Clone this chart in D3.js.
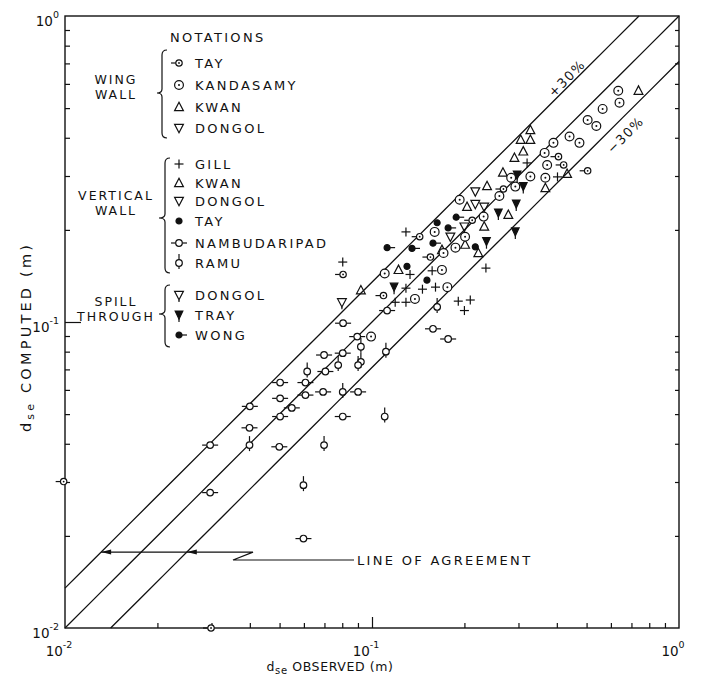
<!DOCTYPE html>
<html><head><meta charset="utf-8">
<script src="https://cdn.jsdelivr.net/npm/d3@7"></script>
<style>
body{margin:0;background:#fff}
svg text{font-family:"DejaVu Sans",sans-serif;fill:#111}
</style></head>
<body><svg id="chart" width="703" height="682"></svg>
<script>
// Scour depth d_se: observed (x) vs computed (y), metres. Pairs are [observed, computed].

// Wing wall abutments
const tayWing = [[0.405,0.347],[0.421,0.326],[0.504,0.312],[0.268,0.272],[0.212,0.215],[0.143,0.190],
  [0.155,0.163],[0.0805,0.143],[0.109,0.122],[0.0099,0.0301],[0.0299,0.0100]];
const kandasamy = [[0.634,0.570],[0.640,0.521],[0.564,0.497],[0.504,0.457],[0.538,0.437],[0.440,0.404],
  [0.474,0.385],[0.390,0.385],[0.365,0.357],[0.372,0.326],[0.367,0.296],[0.284,0.296],[0.328,0.299],
  [0.293,0.277],[0.260,0.258],[0.193,0.251],[0.231,0.221],[0.160,0.197],[0.201,0.190],[0.187,0.175],
  [0.171,0.168],[0.169,0.148],[0.176,0.130],[0.138,0.119],[0.0993,0.0896],[0.110,0.144]];
const kwanWing = [[0.738,0.570],[0.328,0.424],[0.305,0.394],[0.328,0.394],[0.311,0.361],[0.291,0.344],
  [0.432,0.305],[0.367,0.274]];
const dongolWing = [[0.217,0.267],[0.217,0.243],[0.232,0.238]];

// Vertical wall abutments
const gill = [[0.402,0.298],[0.320,0.331],[0.129,0.197],[0.0803,0.157],[0.133,0.143],[0.157,0.147],
  [0.161,0.130],[0.146,0.128],[0.129,0.129],[0.129,0.116],[0.119,0.116],[0.191,0.117],[0.209,0.118],
  [0.200,0.109],[0.235,0.150]];
const kwanVert = [[0.267,0.308],[0.237,0.278],[0.204,0.238],[0.278,0.224],[0.232,0.205],[0.201,0.179],
  [0.222,0.168],[0.169,0.172],[0.122,0.148],[0.092,0.127]];
const dongolVert = [[0.200,0.205],[0.180,0.190]];
const tayVert = [[0.163,0.211],[0.217,0.176],[0.130,0.152],[0.151,0.137]];
const nambudaripad = [[0.112,0.109],[0.0805,0.0991],[0.0895,0.0896],[0.0698,0.078],[0.0803,0.0791],
  [0.0705,0.0689],[0.0502,0.0634],[0.0607,0.0634],[0.0693,0.0591],[0.0901,0.0591],[0.0607,0.0577],
  [0.0502,0.0563],[0.0548,0.0524],[0.0502,0.0491],[0.0803,0.0491],[0.0400,0.0530],[0.0399,0.0451],
  [0.0499,0.0391],[0.0297,0.0396],[0.0297,0.0277],[0.0598,0.0196],[0.158,0.095],[0.177,0.088]];
const ramu = [[0.092,0.083],[0.092,0.0741],[0.111,0.080],[0.0615,0.0689],[0.0776,0.0723],[0.0901,0.0723],
  [0.0803,0.0591],[0.110,0.0491],[0.0399,0.0396],[0.0698,0.0396],[0.0598,0.0293],[0.163,0.112]];

// Spill-through abutments
const dongolSpill = [[0.0798,0.116]];
const tray = [[0.297,0.302],[0.311,0.277],[0.295,0.243],[0.258,0.227],[0.293,0.197],[0.236,0.183],[0.118,0.130]];
const wong = [[0.188,0.220],[0.177,0.203],[0.158,0.181],[0.112,0.175],[0.135,0.174]];

// Band around the line of agreement
const bandFactors = [1.35, 1, 0.71];
const bandLabels = [{text:"+30%", at:0.447, f:1.35, off:-7}, {text:"\u221230%", at:0.621, f:0.71, off:14}];

const svg = d3.select("#chart");
const x = d3.scaleLog().domain([0.01, 1]).range([65, 679]);
const y = d3.scaleLog().domain([0.01, 1]).range([628, 16]);
const ink = "#111";

// frame
svg.append("rect").attr("x", x(0.01)).attr("y", y(1))
  .attr("width", x(1) - x(0.01)).attr("height", y(0.01) - y(1))
  .attr("fill", "none").attr("stroke", ink).attr("stroke-width", 1.4);

const minor = x.ticks().filter(v => ![0.01, 0.1, 1].includes(+v.toPrecision(3)));
function styleAxis(g) {
  g.select(".domain").remove();
  g.selectAll("line").attr("stroke", ink).attr("stroke-width", 1.2);
}
svg.append("g").attr("transform", `translate(0,${y(0.01)})`)
  .call(d3.axisBottom(x).tickValues(minor).tickSize(-5).tickFormat("")).call(styleAxis);
svg.append("g").attr("transform", `translate(0,${y(0.01)})`)
  .call(d3.axisBottom(x).tickValues([0.1]).tickSize(-11).tickFormat("")).call(styleAxis);
svg.append("g").attr("transform", `translate(${x(0.01)},0)`)
  .call(d3.axisLeft(y).tickValues(minor).tickSize(-5).tickFormat("")).call(styleAxis);
svg.append("g").attr("transform", `translate(${x(0.01)},0)`)
  .call(d3.axisLeft(y).tickValues([0.1]).tickSize(-16).tickFormat("")).call(styleAxis);
svg.append("g").attr("transform", `translate(${x(1)},0)`)
  .call(d3.axisRight(y).tickValues(minor).tickSize(-4).tickFormat("")).call(styleAxis);

// decade labels 10^n
const decades = [0.01, 0.1, 1];
function power(g, v) {
  const e = Math.round(Math.log10(v));
  g.append("tspan").text("10");
  g.append("tspan").attr("dy", -8).attr("font-size", 9.5).text(e === 0 ? "0" : "-" + Math.abs(e));
}
decades.forEach(v => {
  const t = svg.append("text").attr("x", x(v) - 6).attr("y", y(0.01) + 28)
    .attr("font-size", 13.5).attr("text-anchor", "middle");
  power(t, v);
  const u = svg.append("text").attr("x", x(0.01) - 6).attr("y", y(v) + 10)
    .attr("font-size", 13.5).attr("text-anchor", "end");
  power(u, v);
});

// axis titles
const xt = svg.append("text").attr("x", 330).attr("y", 671).attr("font-size", 12.5)
  .attr("text-anchor", "middle").attr("letter-spacing", 0.6);
xt.append("tspan").text("d");
xt.append("tspan").attr("font-size", 10).attr("dy", 3).text("se");
xt.append("tspan").attr("dy", -3).text(" OBSERVED (m)");
const yt = svg.append("text").attr("transform", "translate(31,337) rotate(-90)")
  .attr("font-size", 14.5).attr("text-anchor", "middle").attr("letter-spacing", 3.2);
yt.append("tspan").text("d");
yt.append("tspan").attr("font-size", 11).attr("dy", 3).text("se");
yt.append("tspan").attr("dy", -3).text(" COMPUTED (m)");

// line of agreement and the ±30% lines
const line = d3.line().x(d => x(d[0])).y(d => y(d[1]));
bandFactors.forEach(f => {
  const lo = Math.max(0.01, 0.01 / f), hi = Math.min(1, 1 / f);
  const pts = d3.range(0, 21).map(i => lo * Math.pow(hi / lo, i / 20)).map(v => [v, v * f]);
  svg.append("path").attr("d", line(pts)).attr("fill", "none").attr("stroke", ink).attr("stroke-width", 1.3);
});
bandLabels.forEach(b => {
  const px = x(b.at), py = y(b.at * b.f);
  const k = b.off / Math.SQRT2;
  svg.append("text").attr("transform", `translate(${px + k},${py + k}) rotate(-45)`)
    .attr("font-size", 13).attr("text-anchor", "middle").attr("dy", "0.36em")
    .attr("letter-spacing", 1.5).text(b.text);
});

// "LINE OF AGREEMENT" leader
const leadY = 0.0177;
const ly = y(leadY), xUp = x(leadY / 1.35), xLo = x(leadY / 0.71);
svg.append("path").attr("d", `M${xUp},${ly} L253,${ly} L233,560 L354,560`)
  .attr("fill", "none").attr("stroke", ink).attr("stroke-width", 1.2);
[xUp, xLo].forEach(t => {
  svg.append("path").attr("d", `M${t},${ly} l10,-2.5 l0,5 z`).attr("fill", ink);
});
svg.append("text").attr("x", 357).attr("y", 565).attr("font-size", 13)
  .attr("letter-spacing", 2.3).text("LINE OF AGREEMENT");

// marker glyphs
function drawSymbol(g, type, cx, cy) {
  const s = g.append("g").attr("transform", `translate(${cx},${cy})`)
    .attr("stroke", ink).attr("stroke-width", 1.2).attr("fill", "none");
  const circ = (r, fill) => s.append("circle").attr("r", r).attr("fill", fill || "#fff");
  const seg = (x1, y1, x2, y2) => s.append("line").attr("x1", x1).attr("y1", y1).attr("x2", x2).attr("y2", y2);
  switch (type) {
    case "tayWing":
      seg(-8, 0, -3.2, 0); circ(3.2); s.append("circle").attr("r", 0.9).attr("fill", ink).attr("stroke", "none"); break;
    case "kandasamy":
      circ(4.4); s.append("circle").attr("r", 1).attr("fill", ink).attr("stroke", "none"); break;
    case "up":
      s.append("path").attr("d", "M0,-4.8L4.4,3.6L-4.4,3.6Z"); break;
    case "down":
      s.append("path").attr("d", "M-4.4,-3.6L4.4,-3.6L0,4.8Z"); break;
    case "spillDown":
      s.append("path").attr("d", "M-4.4,-3.6L4.4,-3.6L0,4.8Z"); seg(0, 4.8, 0, 7); break;
    case "plus":
      seg(-4.5, 0, 4.5, 0); seg(0, -4.5, 0, 4.5); break;
    case "dot":
      circ(3, ink); break;
    case "wong":
      circ(3, ink); seg(3, 0, 8, 0); break;
    case "namb":
      seg(-8, 0, -3.3, 0); seg(3.3, 0, 8, 0); circ(3.3); break;
    case "ramu":
      seg(0, -9, 0, -3.3); seg(0, 3.3, 0, 6); circ(3.3); break;
    case "tray":
      s.append("path").attr("d", "M-3.8,-4L3.8,-4L0,4Z").attr("fill", ink); seg(0, 3, 0, 7); break;
  }
}

const series = [
  {data: nambudaripad, type: "namb"}, {data: ramu, type: "ramu"}, {data: gill, type: "plus"},
  {data: kwanVert, type: "up"}, {data: kwanWing, type: "up"}, {data: dongolVert, type: "down"},
  {data: dongolWing, type: "down"}, {data: dongolSpill, type: "spillDown"}, {data: tray, type: "tray"},
  {data: tayVert, type: "dot"}, {data: wong, type: "wong"}, {data: kandasamy, type: "kandasamy"},
  {data: tayWing, type: "tayWing"}
];
const marks = svg.append("g");
series.forEach(s => s.data.forEach(d => drawSymbol(marks, s.type, x(d[0]), y(d[1]))));

// legend
const legendGroups = [
  {title: ["WING", "WALL"], titleY: [84, 99], brace: [162, 50, 138, 157, 93],
   items: [["TAY", "tayWing", 63], ["KANDASAMY", "kandasamy", 85], ["KWAN", "up", 107], ["DONGOL", "down", 128]]},
  {title: ["VERTICAL", "WALL"], titleY: [200, 215], brace: [165, 158, 273, 159, 218],
   items: [["GILL", "plus", 164], ["KWAN", "up", 183], ["DONGOL", "down", 201], ["TAY", "dot", 221],
           ["NAMBUDARIPAD", "namb", 243], ["RAMU", "ramu", 263]]},
  {title: ["SPILL", "THROUGH"], titleY: [306, 321], brace: [165, 285, 347, 159, 314],
   items: [["DONGOL", "spillDown", 295], ["TRAY", "tray", 315], ["WONG", "wong", 335]]}
];
svg.append("text").attr("x", 170).attr("y", 42).attr("font-size", 13).attr("letter-spacing", 2.3).text("NOTATIONS");
legendGroups.forEach(gr => {
  gr.title.forEach((t, i) => svg.append("text").attr("x", 116).attr("y", gr.titleY[i])
    .attr("font-size", 12.5).attr("letter-spacing", 2).attr("text-anchor", "middle").text(t));
  const [bx, y0, y1, tx, ty] = gr.brace;
  svg.append("path").attr("d",
    `M${bx + 5},${y0} Q${bx},${y0} ${bx},${y0 + 5} L${bx},${ty - 4} Q${bx},${ty} ${tx},${ty} ` +
    `Q${bx},${ty} ${bx},${ty + 4} L${bx},${y1 - 5} Q${bx},${y1} ${bx + 5},${y1}`)
    .attr("fill", "none").attr("stroke", ink).attr("stroke-width", 1.2);
  gr.items.forEach(([label, type, iy]) => {
    drawSymbol(svg, type, 179, iy);
    svg.append("text").attr("x", 195).attr("y", iy + 5).attr("font-size", 13)
      .attr("letter-spacing", 2.3).text(label);
  });
});
</script></body></html>
